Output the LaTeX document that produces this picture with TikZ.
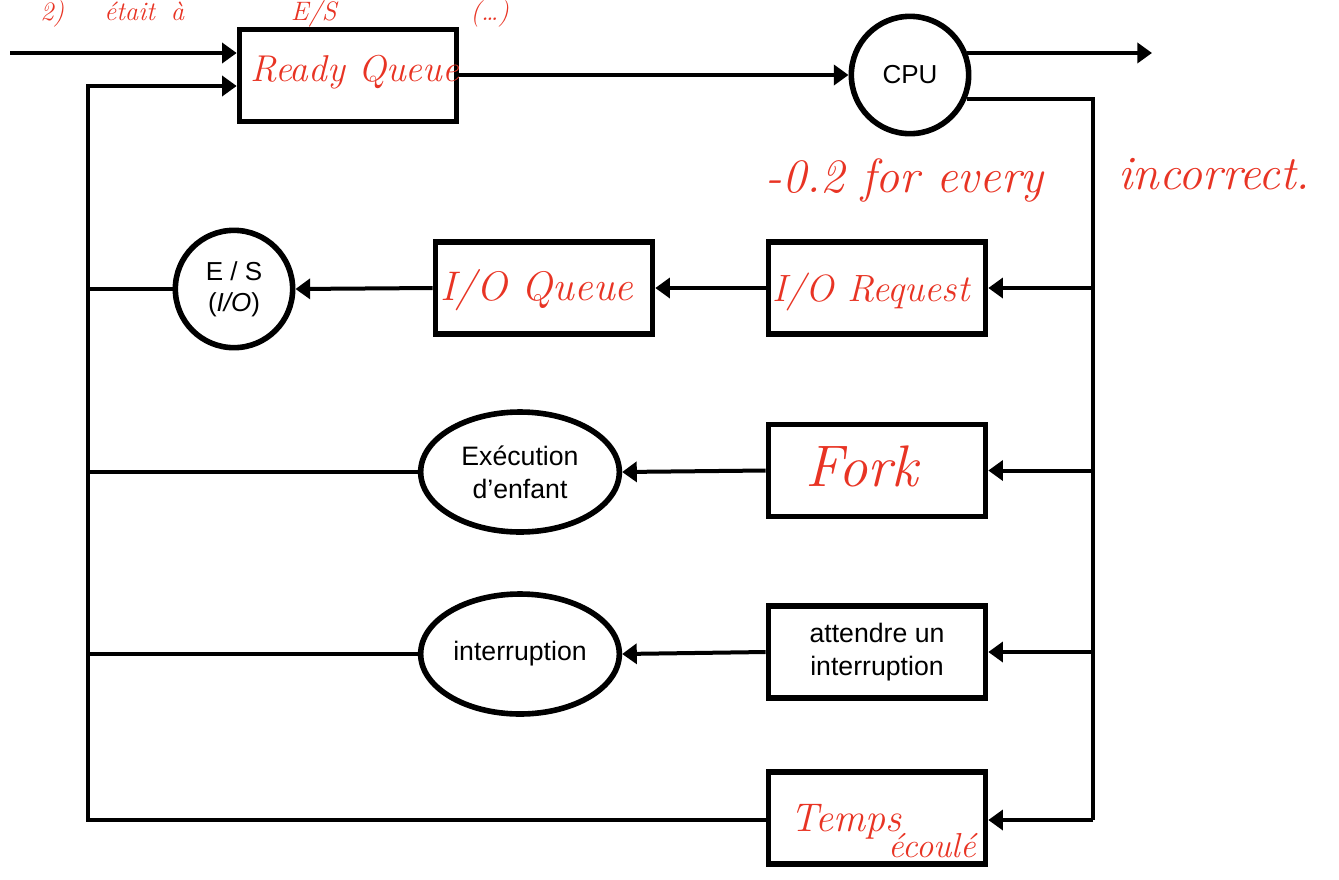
\documentclass[tikz,border=0pt]{standalone}
\usepackage{fontspec}
\setmainfont{Liberation Sans}
\newfontfamily\hand{Latin Modern Roman}
\usetikzlibrary{arrows.meta,shapes.geometric}
\definecolor{ink}{RGB}{232,52,36}
\tikzset{
  conn/.style={line width=3pt},
  arr/.style={conn,-{Triangle[length=11pt,width=15pt]}},
  qbox/.style={draw,line width=4.2pt,minimum width=162.75pt,minimum height=69pt,inner sep=0pt},
  circ/.style={draw,line width=4.2pt,circle,minimum size=88pt,inner sep=0pt,font=\fontsize{19.5}{23}\selectfont,align=center},
  ell/.style={draw,line width=4.2pt,ellipse,minimum width=149pt,minimum height=90pt,inner sep=0pt,font=\fontsize{20}{24.5}\selectfont,align=center},
  lbl/.style={font=\fontsize{20}{24.5}\selectfont,align=center},
  hw/.style={text=ink,font=\hand\itshape\fontsize{28}{30}\selectfont,inner sep=0pt}
}
\begin{document}
\begin{tikzpicture}[x=0.75pt,y=-0.75pt]
\useasboundingbox (0,0) rectangle (1339,879);
% nodes
\node[qbox] (rq) at (348,75.5) {};
\node[circ] (cpu) at (910,75) {CPU};
\node[qbox] (iorq) at (877,288) {};
\node[qbox] (ioq) at (544,288) {};
\node[circ] (es) at (234,289) {E / S\\(\textit{I/O})};
\node[qbox] (fork) at (877,470.5) {};
\node[ell] (exe) at (520,472) {Exécution\\d’enfant};
\node[qbox,lbl] (att) at (877,652) {attendre un\\interruption};
\node[ell] (intr) at (520,654) {interruption};
\node[qbox] (temps) at (877,818) {};
% coordinates
\coordinate (in) at (10,53);
\coordinate (lt) at (88,86);
\coordinate (lb) at (88,820);
\coordinate (rb) at (1093,820);
\coordinate (out) at (1152,53);
% connectors
\draw[arr] (in) -- (in -| rq.west);
\draw[arr] (temps.west |- lb) -- (lb) -- (lt) -- (lt -| rq.west);
\draw[arr] (rq.east |- cpu.west) -- (cpu.west);
\draw[arr] (cpu.21) -- (cpu.21 -| out);
\draw[conn] (cpu.-23) -- (cpu.-23 -| rb) -- (rb);
\draw[arr] (rb) -- (temps.east |- rb);
\draw[arr] (iorq.east -| rb) -- (iorq.east);
\draw[arr] (fork.east -| rb) -- (fork.east);
\draw[arr] (att.east -| rb) -- (att.east);
\draw[arr] (iorq.west) -- (ioq.east);
\draw[arr] (ioq.west) -- (es.east);
\draw[arr] (fork.west) -- (exe.east);
\draw[arr] (att.west) -- (intr.east);
\draw[conn] (es.west) -- (es.west -| lt);
\draw[conn] (exe.west) -- (exe.west -| lt);
\draw[conn] (intr.west) -- (intr.west -| lt);
% handwriting
\node[hw,anchor=west] (hrq) at (250,72) {Ready Queue};
\node[hw,anchor=west,font=\hand\itshape\fontsize{31}{33}\selectfont] (hioq) at (440,290) {I/O Queue};
\node[hw,anchor=west,font=\hand\itshape\fontsize{28.5}{31}\selectfont] (hiorq) at (772,292) {I/O Request};
\node[hw,anchor=west,font=\hand\itshape\fontsize{44}{46}\selectfont] (hfork) at (805,466) {Fork};
\node[hw,anchor=west,font=\hand\itshape\fontsize{30}{32}\selectfont] (htemps) at (790,822) {Temps};
\node[hw,anchor=west,font=\hand\itshape\fontsize{26}{28}\selectfont] (hecoule) at (888,846) {écoulé};
\node[hw,anchor=west,font=\hand\itshape\fontsize{36}{38}\selectfont] (hnote) at (765,180) {-0.2 for every};
\node[hw,anchor=west,font=\hand\itshape\fontsize{36}{38}\selectfont] (hnote2) at (1118,174) {incorrect.};
\node[hw,anchor=north west,font=\hand\itshape\fontsize{20}{22}\selectfont] (htop) at (40,0) {2)\hspace{1.5em}était\hspace{0.6em}à\hspace{4em}E/S};
\node[hw,anchor=north west,font=\hand\itshape\fontsize{20}{22}\selectfont] (htop2) at (470,0) {(\ldots)};
\end{tikzpicture}
\end{document}
